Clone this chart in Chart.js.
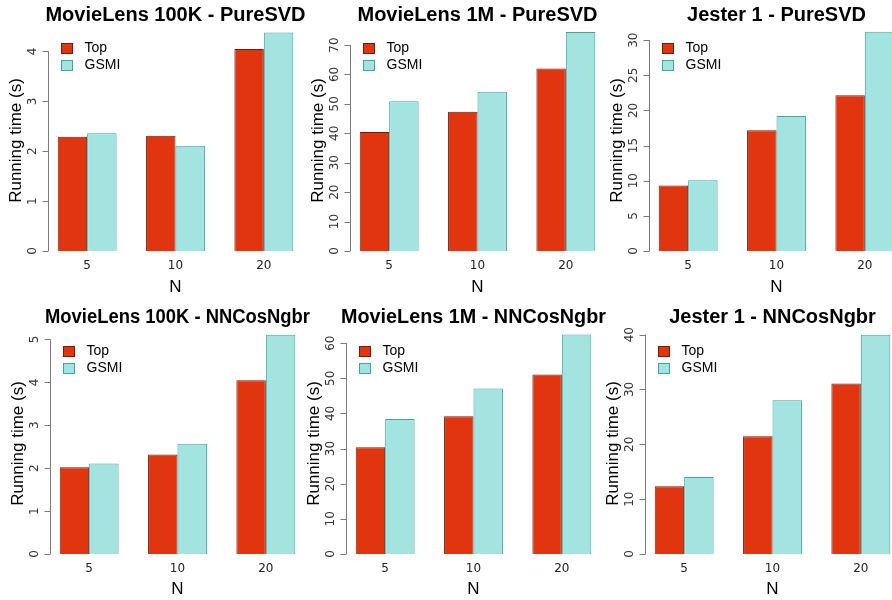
<!DOCTYPE html>
<html>
<head>
<meta charset="utf-8">
<title>Running time - Top vs GSMI</title>
<script src="https://cdn.jsdelivr.net/npm/chart.js@4.4.1/dist/chart.umd.min.js"></script>
<style>
  html, body { margin: 0; padding: 0; background: #fff; overflow: hidden; }
  body { width: 892px; height: 600px; position: relative; }
  .panel { position: absolute; width: 310px; height: 300px; }
</style>
</head>
<body>
<div class="panel" style="left:-2px;top:0"><canvas id="c0"></canvas></div>
<div class="panel" style="left:300px;top:0"><canvas id="c1"></canvas></div>
<div class="panel" style="left:599px;top:0"><canvas id="c2"></canvas></div>
<div class="panel" style="left:0;top:300px"><canvas id="c3"></canvas></div>
<div class="panel" style="left:296px;top:300px"><canvas id="c4"></canvas></div>
<div class="panel" style="left:595px;top:300px"><canvas id="c5"></canvas></div>
<script>
var categories = ['5', '10', '20'];
var seriesNames = ['Top', 'GSMI'];
var titles = [
    'MovieLens 100K - PureSVD',
    'MovieLens 1M - PureSVD',
    'Jester 1 - PureSVD',
    'MovieLens 100K - NNCosNgbr',
    'MovieLens 1M - NNCosNgbr',
    'Jester 1 - NNCosNgbr'
];

// running time (s) per N, one pair of arrays per panel
var topML100kSvd = [2.29, 2.31, 4.05];
var gsmiML100kSvd = [2.36, 2.11, 4.38];
var topML1mSvd = [40.4, 47.3, 62.0];
var gsmiML1mSvd = [50.9, 54.1, 74.4];
var topJesterSvd = [9.33, 17.18, 22.15];
var gsmiJesterSvd = [10.08, 19.22, 31.19];
var topML100kCos = [2.02, 2.32, 4.05];
var gsmiML100kCos = [2.11, 2.57, 5.11];
var topML1mCos = [30.4, 39.2, 51.1];
var gsmiML1mCos = [38.4, 47.1, 62.5];
var topJesterCos = [12.35, 21.47, 31.08];
var gsmiJesterCos = [14.05, 28.03, 40.0];

// y axis: upper limit and tick step per panel
var yMax = [4.43, 75.1, 31.45, 5.15, 62.9, 40.3];
var yStep = [1, 10, 5, 1, 10, 10];

var panels = [
    [topML100kSvd, gsmiML100kSvd],
    [topML1mSvd, gsmiML1mSvd],
    [topJesterSvd, gsmiJesterSvd],
    [topML100kCos, gsmiML100kCos],
    [topML1mCos, gsmiML1mCos],
    [topJesterCos, gsmiJesterCos]
];

var fills = ['#e0350f', '#a3e4e1'];
var edges = ['#6e1e0c', '#3fa6a2'];

Chart.defaults.font.family = '"Liberation Sans", Arial, sans-serif';
Chart.defaults.color = '#000';

// R style left axis (line stops at the last tick), rotated tick labels, inset legend
var rAxis = {
    id: 'rAxis',
    afterDraw: function (chart) {
        var ctx = chart.ctx;
        var area = chart.chartArea;
        var y = chart.scales.y;
        var ticks = y.ticks;
        var last = ticks[ticks.length - 1].value;
        var x = Math.round(area.left + 0.02 * (area.right - area.left)) + 0.5;

        ctx.save();
        ctx.strokeStyle = '#7a7a7a';
        ctx.lineWidth = 1;
        ctx.beginPath();
        ctx.moveTo(x, y.getPixelForValue(0));
        ctx.lineTo(x, y.getPixelForValue(last));
        ticks.forEach(function (t) {
            var py = Math.round(y.getPixelForValue(t.value)) + 0.5;
            ctx.moveTo(x - 6, py);
            ctx.lineTo(x, py);
        });
        ctx.stroke();

        ctx.fillStyle = '#333';
        ctx.font = '12px "DejaVu Sans"';
        ctx.textAlign = 'center';
        ctx.textBaseline = 'middle';
        ticks.forEach(function (t) {
            ctx.save();
            ctx.translate(x - 16, y.getPixelForValue(t.value));
            ctx.rotate(-Math.PI / 2);
            ctx.fillText(String(t.value), 0, 0);
            ctx.restore();
        });

        ctx.font = '14px "Liberation Sans"';
        ctx.textAlign = 'left';
        chart.data.datasets.forEach(function (ds, i) {
            var bx = Math.round(area.left + 18) + 0.5;
            var by = Math.round(area.top + 13 + i * 17) + 0.5;
            ctx.fillStyle = ds.backgroundColor;
            ctx.fillRect(bx, by, 11, 10);
            ctx.strokeStyle = ds.borderColor;
            ctx.strokeRect(bx, by, 11, 10);
            ctx.fillStyle = '#000';
            ctx.fillText(ds.label, bx + 23, by + 5);
        });
        ctx.restore();
    }
};

panels.forEach(function (pair, k) {
    var bottomRow = k >= 3;
    new Chart(document.getElementById('c' + k), {
        type: 'bar',
        data: {
            labels: categories,
            datasets: pair.map(function (values, i) {
                return {
                    label: seriesNames[i],
                    data: values,
                    backgroundColor: fills[i],
                    borderColor: edges[i],
                    borderWidth: 1,
                    categoryPercentage: 2 / 3,
                    barPercentage: 1
                };
            })
        },
        options: {
            responsive: true,
            maintainAspectRatio: false,
            animation: false,
            layout: { padding: 0 },
            plugins: {
                legend: { display: false },
                tooltip: { enabled: false },
                title: {
                    display: true,
                    text: titles[k],
                    fullSize: false,
                    color: '#000',
                    font: { size: 20, weight: 'bold' },
                    padding: bottomRow ? { top: 5, bottom: 4 } : { top: 3, bottom: 3 }
                }
            },
            scales: {
                x: {
                    grid: { display: false, drawTicks: false },
                    border: { display: false },
                    ticks: { color: '#222', padding: 8, font: { family: '"DejaVu Sans"', size: 12 } },
                    title: {
                        display: true,
                        text: 'N',
                        color: '#000',
                        font: { size: 17 },
                        padding: { top: 0, bottom: bottomRow ? 0 : 2 }
                    },
                    afterFit: function (scale) { scale.height = bottomRow ? 46 : 49; }
                },
                y: {
                    min: 0,
                    max: yMax[k],
                    grid: { display: false, drawTicks: false },
                    border: { display: false },
                    ticks: { display: false, stepSize: yStep[k] },
                    afterBuildTicks: function (scale) {
                        var list = [];
                        for (var v = 0; v <= yMax[k] + 1e-9; v += yStep[k]) list.push({ value: v });
                        scale.ticks = list;
                    },
                    title: {
                        display: true,
                        text: 'Running time (s)',
                        color: '#000',
                        font: { size: 17 },
                        padding: { top: 8, bottom: 0 }
                    },
                    afterFit: function (scale) { scale.width = 45; }
                }
            }
        },
        plugins: [rAxis]
    });
});
</script>
</body>
</html>
